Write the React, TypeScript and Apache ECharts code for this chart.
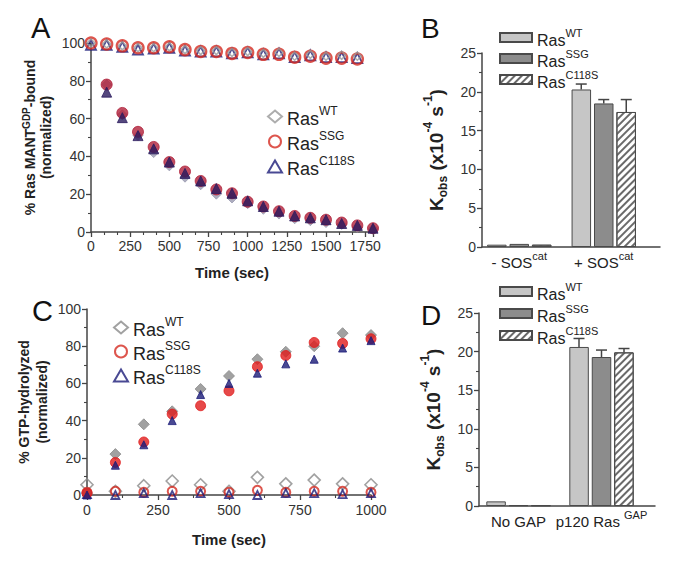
import React, { useEffect, useRef } from 'react';
import * as echarts from 'echarts';

// ---------- Panel A data (MANT-GDP bound, %) ----------
const timeTopA = [0, 100, 200, 300, 400, 500, 600, 700, 800, 900, 1000, 1100, 1200, 1300, 1400, 1500, 1600, 1700];
const wtTopA = [100, 99.5, 98.5, 97.5, 97.5, 98, 96.5, 96, 96, 95, 95.5, 94.5, 95, 93, 94, 93, 93.5, 93];
const ssgTopA = [100, 99.5, 98.5, 97.5, 97.5, 98, 96.5, 95.5, 95.5, 94.5, 95, 94, 94, 92.5, 93, 92, 92, 91.5];
const c118sTopA = [99, 99, 98, 96.5, 97, 97.5, 96, 95.5, 95.5, 94.5, 95, 94, 94.5, 92.5, 93.5, 92.5, 92.5, 92];
const timeBotA = [100, 200, 300, 400, 500, 600, 700, 800, 900, 1000, 1100, 1200, 1300, 1400, 1500, 1600, 1700, 1800];
const wtBotA = [78, 62, 51, 42, 35, 29, 25, 20, 18, 15, 12, 9.5, 7, 6, 5, 4, 2.5, 1.5];
const ssgBotA = [78, 63, 53, 45, 37, 32, 27, 22.5, 20.5, 16, 13.5, 11, 8.5, 7.5, 6.5, 5, 3.5, 2];
const c118sBotA = [74, 60.5, 51, 44, 37, 31, 27, 23, 20.5, 16.5, 13.5, 11, 8.5, 7.5, 6.5, 4.5, 3.5, 2];

// ---------- Panel C data (GTP hydrolyzed, %) ----------
const timeC = [0, 100, 200, 300, 400, 500, 600, 700, 800, 900, 1000];
const wtGapC = [1, 22, 38, 45, 57, 64, 73, 77, 80, 87, 86];
const ssgGapC = [1, 17.5, 28.5, 43.5, 48, 56, 69, 75, 82, 81.5, 84];
const c118sGapC = [0, 16, 27, 40, 54, 60, 65.5, 70.5, 73, 79, 83];
const wtNoGapC = [5.5, 2, 5, 7.5, 5.5, 2, 9.5, 6, 8, 6, 5.5];
const ssgNoGapC = [1.5, 2, 1.5, 2, 2, 1.5, 2.5, 1.5, 2, 2, 1.5];
const c118sNoGapC = [0.5, 0, 1, 0, 1, 0.5, 0, 1, 1, 0.5, 1];

// ---------- Panel B data (Kobs x10^-4 s^-1) ----------
const catB = ['- SOS|cat', '+ SOS|cat'];
const wtB = [0.3, 20.3];
const ssgB = [0.4, 18.5];
const c118sB = [0.3, 17.4];
const wtErrB = [0, 0.7];
const ssgErrB = [0, 0.5];
const c118sErrB = [0, 1.6];

// ---------- Panel D data (Kobs x10^-4 s^-1) ----------
const catD = ['No GAP|', 'p120 Ras |GAP'];
const wtD = [0.6, 20.6];
const ssgD = [0.1, 19.3];
const c118sD = [0.1, 19.9];
const wtErrD = [0, 1.1];
const ssgErrD = [0, 0.9];
const c118sErrD = [0, 0.5];

const FONT = 'Liberation Sans, Arial, sans-serif';
const AX = '#444';
const RED = '#d42a20';
const NAVY = '#1c1c78';

const zip = (xs: number[], ys: number[]) => xs.map((x, i) => [x, ys[i]]);

const richSup = (size: number, supSize: number, bold = false) => ({
  b: { fontSize: size, fontFamily: FONT, fontWeight: bold ? 'bold' : 'normal', color: '#222', verticalAlign: 'bottom', lineHeight: size + 5 },
  sup: { fontSize: supSize, fontFamily: FONT, fontWeight: bold ? 'bold' : 'normal', color: '#222', verticalAlign: 'top', lineHeight: supSize },
});

const legendName = (name: string) => {
  const suffix = name.split('_')[1];
  return '{b|Ras}{sup|' + suffix + '}';
};

const valueAxisBase = (min: number, max: number, interval: number, minorSplit: number) => ({
  type: 'value',
  min,
  max,
  interval,
  axisLine: { show: true, lineStyle: { color: AX, width: 1.5 } },
  axisTick: { show: true, length: 5, lineStyle: { color: AX, width: 1.3 } },
  minorTick: { show: true, splitNumber: minorSplit, length: 3, lineStyle: { color: AX, width: 1.1 } },
  splitLine: { show: false },
  axisLabel: { color: '#333', fontSize: 14, fontFamily: FONT, margin: 6, formatter: (v: number) => String(v) },
});

const scatter = (name: string, x: number, y: number, data: number[][], symbol: string, size: number, color: string, filled: boolean, bw = 2) => ({
  type: 'scatter',
  name,
  xAxisIndex: x,
  yAxisIndex: y,
  data,
  symbol,
  symbolSize: size,
  itemStyle: filled
    ? { color, borderColor: color, borderWidth: 1 }
    : { color: 'rgba(255,255,255,0)', borderColor: color, borderWidth: bw },
  emphasis: { disabled: true },
});

const BAR_W = 19.5;
const BAR_STEP = 22.5;

const hatch = {
  symbol: 'rect',
  symbolSize: 1,
  dashArrayX: [1, 0],
  dashArrayY: [1.6, 2.6],
  rotation: -Math.PI / 4,
  color: '#6a6a6a',
};

const barSeries = (name: string, x: number, y: number, data: number[], color: string, decal?: any) => ({
  type: 'bar',
  name,
  xAxisIndex: x,
  yAxisIndex: y,
  data,
  barWidth: BAR_W,
  barGap: '15%',
  itemStyle: { color, borderColor: '#4a4a4a', borderWidth: 1, decal },
  emphasis: { disabled: true },
});

const errSeries = (x: number, y: number, vals: number[], errs: number[], k: number) => ({
  type: 'custom',
  xAxisIndex: x,
  yAxisIndex: y,
  z: 5,
  silent: true,
  data: vals.map((v, i) => [i, v, errs[i]]),
  renderItem: (params: any, api: any) => {
    const err = api.value(2);
    if (!err) return null;
    const base = api.coord([api.value(0), api.value(1)]);
    const top = api.coord([api.value(0), api.value(1) + err]);
    const cx = base[0] + (k - 1) * BAR_STEP;
    const st = { stroke: '#444', lineWidth: 1.5 };
    return {
      type: 'group',
      children: [
        { type: 'line', shape: { x1: cx, y1: base[1], x2: cx, y2: top[1] }, style: st },
        { type: 'line', shape: { x1: cx - 5.5, y1: top[1], x2: cx + 5.5, y2: top[1] }, style: st },
      ],
    };
  },
});

const catLabel = (v: string) => {
  const [a, s] = v.split('|');
  return s ? '{b|' + a + '}{sup|' + s + '}' : '{b|' + a + '}';
};

const kobsName = '{k|K}{sub|obs}{k| (x10}{sup|-4}{k| s}{sup|-1}{k|)}';
const kobsRich = {
  k: { fontSize: 19, fontFamily: FONT, fontWeight: 'bold', color: '#222', verticalAlign: 'bottom', lineHeight: 24 },
  sup: { fontSize: 12, fontFamily: FONT, fontWeight: 'bold', color: '#222', verticalAlign: 'top', lineHeight: 12 },
  sub: { fontSize: 12, fontFamily: FONT, fontWeight: 'bold', color: '#222', verticalAlign: 'bottom', lineHeight: 12, padding: [0, 0, -3, 0] },
};

const catAxisLabel = {
  formatter: catLabel,
  interval: 0,
  margin: 3,
  hideOverlap: false,
  rich: richSup(15, 11),
};

const option: any = {
  animation: false,
  backgroundColor: '#fff',
  textStyle: { fontFamily: FONT },
  grid: [
    { left: 91, top: 43, width: 282, height: 189 }, // A
    { left: 87, top: 309, width: 284, height: 186 }, // C
    { left: 482, top: 53, width: 178, height: 194 }, // B axes
    { left: 477, top: 53, width: 169, height: 194 }, // B bars
    { left: 479, top: 313, width: 176, height: 193 }, // D axes
    { left: 477, top: 313, width: 166, height: 193 }, // D bars
  ],
  xAxis: [
    {
      ...valueAxisBase(0, 1800, 250, 3),
      gridIndex: 0,
      max: 1800,
      axisLabel: {
        color: '#333', fontSize: 14, fontFamily: FONT, margin: 7,
        formatter: (v: number) => (v <= 1750 ? String(v) : ''),
      },
      name: 'Time (sec)',
      nameLocation: 'middle',
      nameGap: 33,
      nameTextStyle: { fontSize: 15, fontWeight: 'bold', color: '#222', fontFamily: FONT },
    },
    {
      ...valueAxisBase(0, 1000, 250, 2),
      gridIndex: 1,
      axisLabel: { color: '#333', fontSize: 14, fontFamily: FONT, margin: 8, formatter: (v: number) => String(v) },
      name: 'Time (sec)',
      nameLocation: 'middle',
      nameGap: 37,
      nameTextStyle: { fontSize: 15, fontWeight: 'bold', color: '#222', fontFamily: FONT },
    },
    {
      type: 'value', gridIndex: 2, min: 0, max: 1,
      axisLine: { show: true, onZero: false, lineStyle: { color: AX, width: 1.5 } },
      axisTick: { show: false }, axisLabel: { show: false }, splitLine: { show: false },
    },
    {
      type: 'category', gridIndex: 3, data: catB,
      axisLine: { show: false }, axisTick: { show: false },
      axisLabel: catAxisLabel,
    },
    {
      type: 'value', gridIndex: 4, min: 0, max: 1,
      axisLine: { show: true, onZero: false, lineStyle: { color: AX, width: 1.5 } },
      axisTick: { show: false }, axisLabel: { show: false }, splitLine: { show: false },
    },
    {
      type: 'category', gridIndex: 5, data: catD,
      axisLine: { show: false }, axisTick: { show: false },
      axisLabel: catAxisLabel,
    },
  ],
  yAxis: [
    {
      ...valueAxisBase(0, 100, 20, 2),
      gridIndex: 0,
      name: '{t|% Ras MANT}{s|GDP}{t|-bound}\n{t|(normalized)}',
      nameLocation: 'middle',
      nameRotate: 90,
      nameGap: 38,
      nameTextStyle: {
        rich: {
          t: { fontSize: 14, fontWeight: 'bold', color: '#222', fontFamily: FONT, verticalAlign: 'bottom', lineHeight: 16 },
          s: { fontSize: 10, fontWeight: 'bold', color: '#222', fontFamily: FONT, verticalAlign: 'top', lineHeight: 10 },
        },
      },
    },
    {
      ...valueAxisBase(0, 100, 20, 2),
      gridIndex: 1,
      name: '{t|% GTP-hydrolyzed}\n{t|(normalized)}',
      nameLocation: 'middle',
      nameRotate: 90,
      nameGap: 36,
      nameTextStyle: {
        rich: {
          t: { fontSize: 14, fontWeight: 'bold', color: '#222', fontFamily: FONT, lineHeight: 18 },
        },
      },
    },
    {
      ...valueAxisBase(0, 25, 5, 2),
      gridIndex: 2,
      name: kobsName,
      nameLocation: 'middle',
      nameRotate: 90,
      nameGap: 36,
      nameTextStyle: { rich: kobsRich },
    },
    { type: 'value', gridIndex: 3, min: 0, max: 25, show: false },
    {
      ...valueAxisBase(0, 25, 5, 2),
      gridIndex: 4,
      name: kobsName,
      nameLocation: 'middle',
      nameRotate: 90,
      nameGap: 36,
      nameTextStyle: { rich: kobsRich },
    },
    { type: 'value', gridIndex: 5, min: 0, max: 25, show: false },
  ],
  legend: [
    {
      data: ['A_WT', 'A_SSG', 'A_C118S'],
      orient: 'vertical',
      left: 262,
      top: 100,
      itemGap: 2,
      itemWidth: 14,
      itemHeight: 12,
      formatter: legendName,
      textStyle: { rich: richSup(18, 12) },
      selectedMode: false,
    },
    {
      data: ['C_WT', 'C_SSG', 'C_C118S'],
      orient: 'vertical',
      left: 108,
      top: 311,
      itemGap: 1,
      itemWidth: 14,
      itemHeight: 12,
      formatter: legendName,
      textStyle: { rich: richSup(18, 12) },
      selectedMode: false,
    },
    {
      data: ['B_WT', 'B_SSG', 'B_C118S'],
      orient: 'vertical',
      left: 494,
      top: 22,
      itemGap: 0,
      itemWidth: 32,
      itemHeight: 9,
      icon: 'rect',
      formatter: legendName,
      textStyle: { rich: richSup(16, 11) },
      selectedMode: false,
    },
    {
      data: ['D_WT', 'D_SSG', 'D_C118S'],
      orient: 'vertical',
      left: 494,
      top: 276,
      itemGap: 1,
      itemWidth: 32,
      itemHeight: 9,
      icon: 'rect',
      formatter: legendName,
      textStyle: { rich: richSup(16, 11) },
      selectedMode: false,
    },
  ],
  graphic: [
    { type: 'text', left: 31, top: 13, style: { text: 'A', fontSize: 29, fontFamily: FONT, fill: '#111' } },
    { type: 'text', left: 421, top: 14, style: { text: 'B', fontSize: 28, fontFamily: FONT, fill: '#111' } },
    { type: 'text', left: 32, top: 296, style: { text: 'C', fontSize: 29, fontFamily: FONT, fill: '#111' } },
    { type: 'text', left: 421, top: 301, style: { text: 'D', fontSize: 28, fontFamily: FONT, fill: '#111' } },
  ],
  series: [
    // Panel A: without SOS (open)
    scatter('A_C118S', 0, 0, zip(timeTopA, c118sTopA), 'triangle', 10, NAVY, false, 1.8),
    scatter('A_SSG', 0, 0, zip(timeTopA, ssgTopA), 'circle', 11, RED, false, 2.4),
    scatter('A_WT', 0, 0, zip(timeTopA, wtTopA), 'diamond', 8, '#999', false, 1.6),
    // Panel A: with SOS (filled)
    scatter('A_WTf', 0, 0, zip(timeBotA, wtBotA), 'diamond', 10, '#9a9ab0', true),
    scatter('A_SSGf', 0, 0, zip(timeBotA, ssgBotA), 'circle', 11, '#b0203a', true),
    scatter('A_C118Sf', 0, 0, zip(timeBotA, c118sBotA), 'triangle', 10, '#2a1a5e', true),
    // Panel C: no GAP (open)
    scatter('C_WT', 1, 1, zip(timeC, wtNoGapC), 'diamond', 12, '#8a8a8a', false, 1.6),
    scatter('C_SSG', 1, 1, zip(timeC, ssgNoGapC), 'circle', 9, RED, false, 2),
    scatter('C_C118S', 1, 1, zip(timeC, c118sNoGapC), 'triangle', 8, NAVY, false, 1.8),
    // Panel C: with GAP (filled)
    scatter('C_WTf', 1, 1, zip(timeC, wtGapC), 'diamond', 11, '#8a8a8a', true),
    scatter('C_SSGf', 1, 1, zip(timeC, ssgGapC), 'circle', 10, '#e01c1c', true),
    scatter('C_C118Sf', 1, 1, zip(timeC, c118sGapC), 'triangle', 8, NAVY, true),
    // Panel B bars
    barSeries('B_WT', 3, 3, wtB, '#c6c6c6'),
    barSeries('B_SSG', 3, 3, ssgB, '#8c8c8c'),
    barSeries('B_C118S', 3, 3, c118sB, '#ffffff', hatch),
    errSeries(3, 3, wtB, wtErrB, 0),
    errSeries(3, 3, ssgB, ssgErrB, 1),
    errSeries(3, 3, c118sB, c118sErrB, 2),
    // Panel D bars
    barSeries('D_WT', 5, 5, wtD, '#c6c6c6'),
    barSeries('D_SSG', 5, 5, ssgD, '#8c8c8c'),
    barSeries('D_C118S', 5, 5, c118sD, '#ffffff', hatch),
    errSeries(5, 5, wtD, wtErrD, 0),
    errSeries(5, 5, ssgD, ssgErrD, 1),
    errSeries(5, 5, c118sD, c118sErrD, 2),
  ],
};

export default function App() {
  const ref = useRef<HTMLDivElement>(null);
  useEffect(() => {
    const chart = echarts.init(ref.current as HTMLDivElement, null, { renderer: 'svg' });
    chart.setOption(option);
    return () => chart.dispose();
  }, []);
  return (
    <div
      ref={ref}
      style={{ position: 'absolute', left: 0, top: 0, width: 688, height: 561, background: '#fff' }}
    />
  );
}
